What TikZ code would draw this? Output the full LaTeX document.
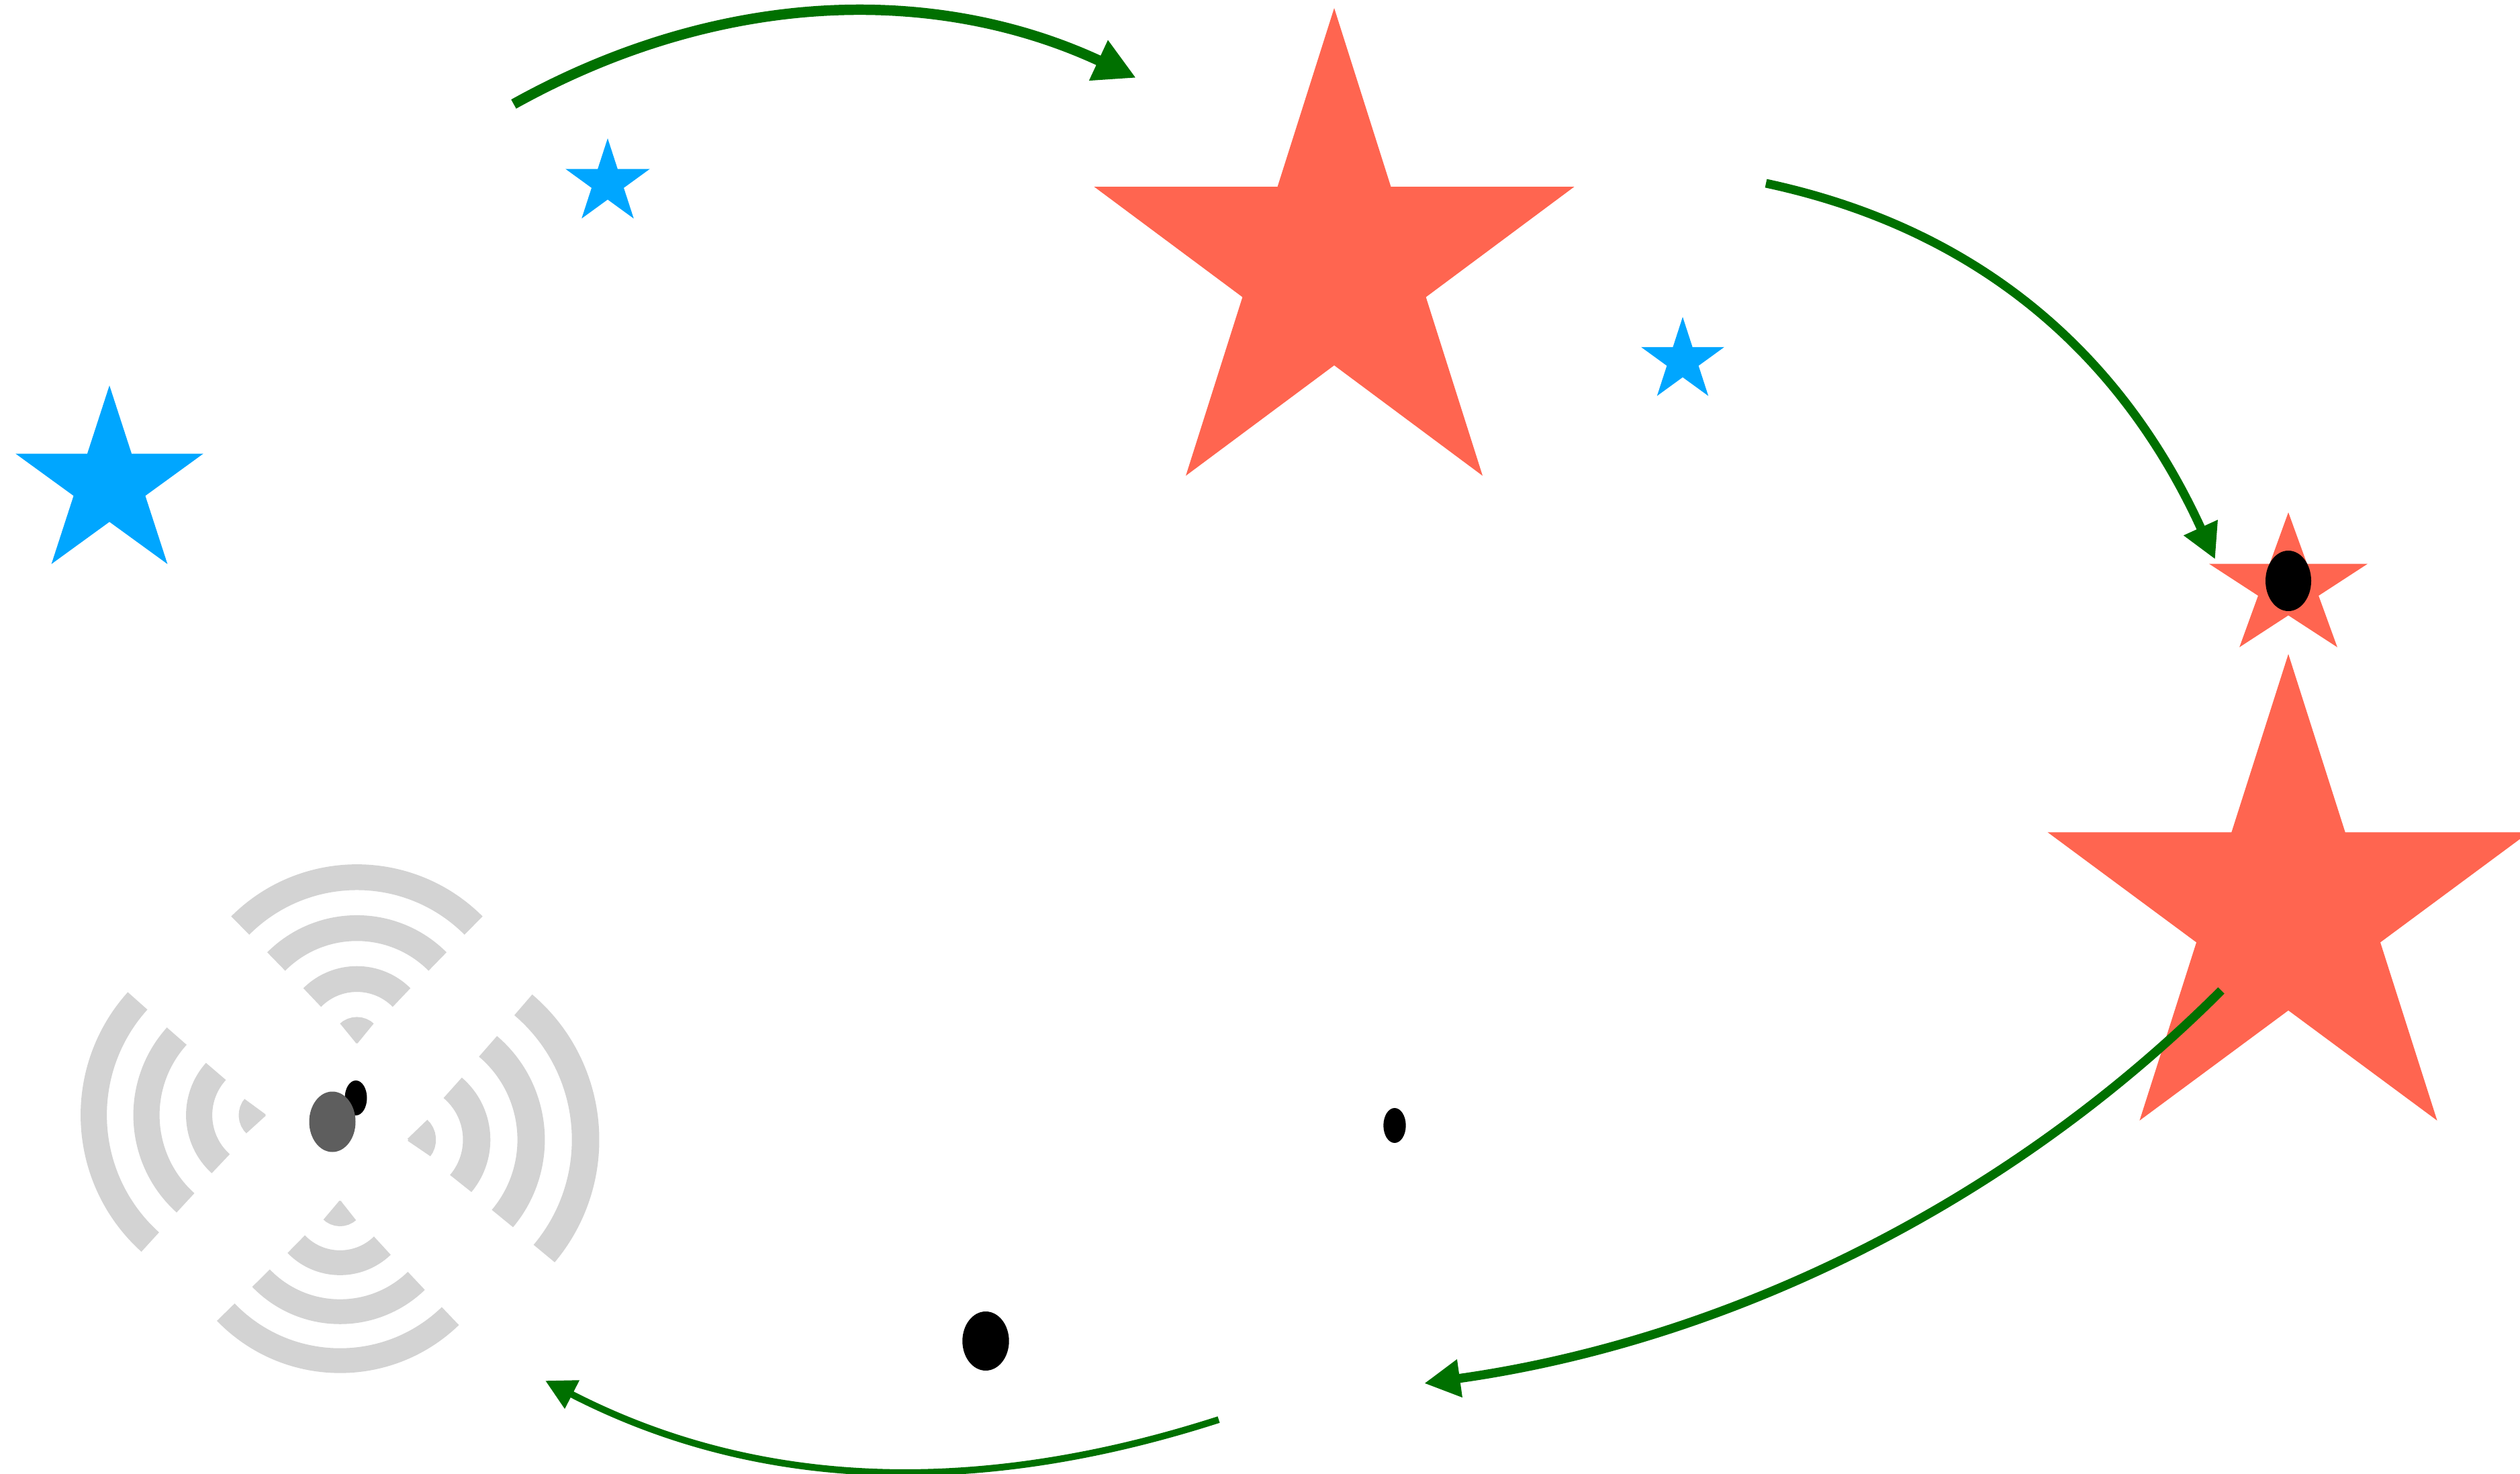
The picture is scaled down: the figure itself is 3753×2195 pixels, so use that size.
\documentclass[tikz,border=0pt]{standalone}
\usepackage{xcolor}
\usetikzlibrary{arrows.meta}
\definecolor{starred}{RGB}{255,101,80}
\definecolor{starblue}{RGB}{0,166,255}
\definecolor{flowgreen}{RGB}{0,112,0}
\definecolor{wavegrey}{RGB}{211,211,211}
\definecolor{dotgrey}{RGB}{94,94,94}

\begin{document}
\begin{tikzpicture}[x=0.01cm, y=-0.01cm,
  flow/.style={draw=flowgreen, -{Triangle[length=0pt 4, width=0pt 4]}},
  wave/.style={draw=wavegrey}]
\useasboundingbox (0,0) rectangle (3753,2195);
\foreach \cx/\cy/\rx/\ry/\col in {163/721/147/147/starblue, 905/272/66/66/starblue, 2506/537/65/65/starblue,
    1987/397/376/385/starred, 3408/874/124/111/starred, 3408/1358/377/384/starred}
  \fill[\col] plot[samples at={0,...,9}, variable=\k]
    ({\cx+\rx*(1-0.618*mod(\k,2))*cos(-90+36*\k)}, {\cy+\ry*(1-0.618*mod(\k,2))*sin(-90+36*\k)}) -- cycle;
\foreach \cx/\cy/\a/\b/\r/\p/\w in {531.5/1552/225/315/18.3/75.8/10.9, 506.4/1789.7/46/136/17.8/72.9/10.5,
    393.9/1660.6/132/222/18.8/78.5/11.1, 608.4/1697.2/-49.6/40/20.4/81.1/11.6}
  \foreach \k in {0,...,3}
    \draw[wave, line width=\w pt] (\cx,\cy) ++(\a:{\r+\k*\p}) arc[start angle=\a, end angle=\b, radius={\r+\k*\p}];
\fill (530,1635) ellipse[x radius=16.5, y radius=26];
\fill[dotgrey] (495,1670.5) ellipse[x radius=34.5, y radius=45];
\fill (2077,1676) ellipse[x radius=16.7, y radius=26];
\fill (1468,1997) ellipse[x radius=34.7, y radius=44];
\fill (3408,865) ellipse[x radius=34, y radius=45];
\coordinate (hopAs) at (765,155);
\coordinate (hopAe) at (1692,116);
\coordinate (hopBs) at (2630,273);
\coordinate (hopBe) at (3299,833);
\coordinate (hopCs) at (3308,1475);
\coordinate (hopCe) at (2121,2060);
\coordinate (hopDs) at (1815,2114);
\coordinate (hopDe) at (812,2056);
\draw[flow, line width=4.4pt] (hopAs) .. controls (1080,-20) and (1400,-20) .. (hopAe);
\draw[flow, line width=3.7pt] (hopBs) .. controls (2953,342) and (3162,533) .. (hopBe);
\draw[flow, line width=3.8pt] (hopCs) .. controls (2988,1795) and (2570,1997) .. (hopCe);
\draw[flow, line width=2.85pt, -{Triangle[length=0pt 4.5, width=0pt 4.5]}] (hopDs) .. controls (1470,2225) and (1140,2225) .. (hopDe);
\end{tikzpicture}
\end{document}
